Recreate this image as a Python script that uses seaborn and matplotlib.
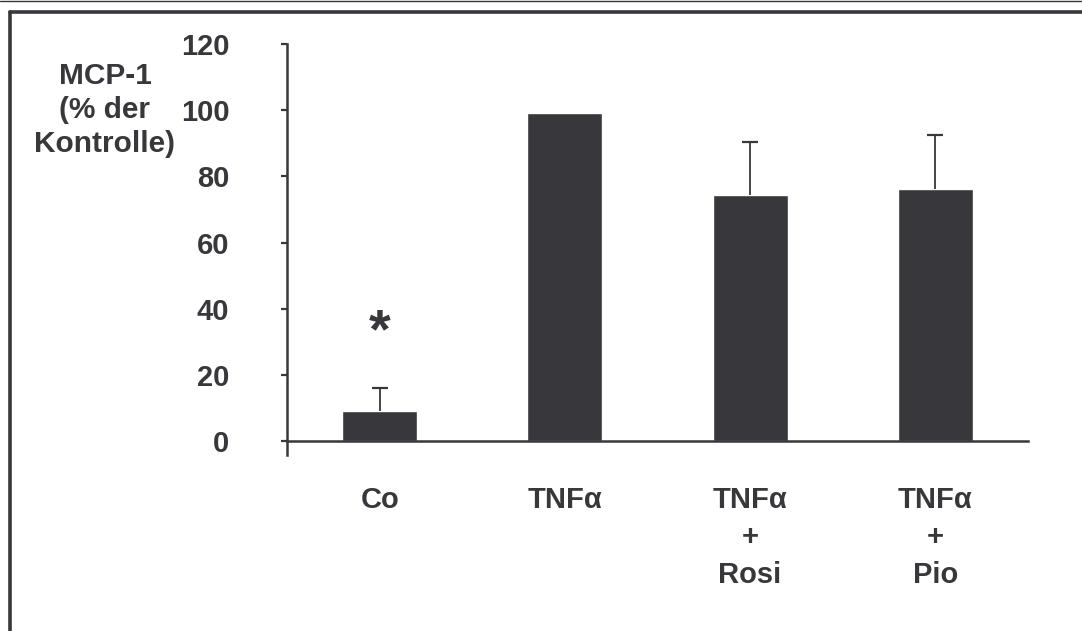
import pandas as pd
import matplotlib.pyplot as plt
import seaborn as sns
from matplotlib.lines import Line2D

groups = ['Co', 'TNF\u03b1', 'TNF\u03b1\n+\nRosi', 'TNF\u03b1\n+\nPio']
mcp1 = [9.0, 99.0, 74.5, 76.3]
sem_up = [7.0, 0.0, 16.0, 16.2]
y_ticks = [0, 20, 40, 60, 80, 100, 120]

dark = '#38373b'

sns.set_theme(style='white')
plt.rcParams['font.family'] = ['Liberation Sans', 'DejaVu Sans']
plt.rcParams['font.weight'] = 'bold'
plt.rcParams['text.color'] = dark

df = pd.DataFrame({'group': groups, 'mcp1': mcp1, 'sem': sem_up})
df['pos'] = range(len(df))

fig = plt.figure(figsize=(10.82, 6.31), dpi=100)
W, H = 1082, 631
ax = fig.add_axes([287 / W, 1 - 455 / H, (1028 - 287) / W, (455 - 44) / H])

sns.barplot(data=df, x='group', y='mcp1', color=dark, saturation=1,
            width=0.405, errorbar=None, ax=ax)
err = df[df['sem'] > 0]
_, caps, _ = ax.errorbar(err['pos'], err['mcp1'], yerr=[[0] * len(err), err['sem']],
                         fmt='none', ecolor=dark, elinewidth=1.3, capsize=6, capthick=1.6)
caps[0].set_visible(False)  # only the upper whisker

ax.text(0, 32.5, '*', ha='center', va='center', fontsize=40, fontweight='bold', color=dark)

ax.set_xlim(-0.5, 3.5)
ax.set_ylim(-4.2, 120)
ax.set_yticks(y_ticks)
ax.set_xlabel('')
ax.set_ylabel('')

for s in ['top', 'right']:
    ax.spines[s].set_visible(False)
ax.spines['bottom'].set_position(('data', 0))
for s in ['left', 'bottom']:
    ax.spines[s].set_color(dark)
    ax.spines[s].set_linewidth(1.8)

ax.tick_params(axis='y', direction='out', length=4.5, width=1.6, color=dark,
               left=True, pad=37, labelsize=21, labelcolor=dark)
ax.tick_params(axis='x', length=0, pad=32, labelsize=21, labelcolor=dark)
for lab in ax.get_xticklabels() + ax.get_yticklabels():
    lab.set_fontweight('bold')
for lab in ax.get_xticklabels():
    lab.set_linespacing(1.45)

fig.text(105 / W, 1 - 110 / H, 'MCP-1\n(% der\nKontrolle)', ha='center', va='center',
         multialignment='center', fontsize=21.5, fontweight='bold', color=dark,
         linespacing=1.25)

# frame around the figure
fig.add_artist(Line2D([0, 1], [1 - 0.5 / H, 1 - 0.5 / H], transform=fig.transFigure,
                      color=dark, linewidth=1.0))
fig.add_artist(Line2D([10 / W, 1], [1 - 11.5 / H, 1 - 11.5 / H], transform=fig.transFigure,
                      color=dark, linewidth=2.6))
fig.add_artist(Line2D([10 / W, 10 / W], [0, 1 - 11.5 / H], transform=fig.transFigure,
                      color=dark, linewidth=2.6))

fig.savefig('out.png', dpi=100)
